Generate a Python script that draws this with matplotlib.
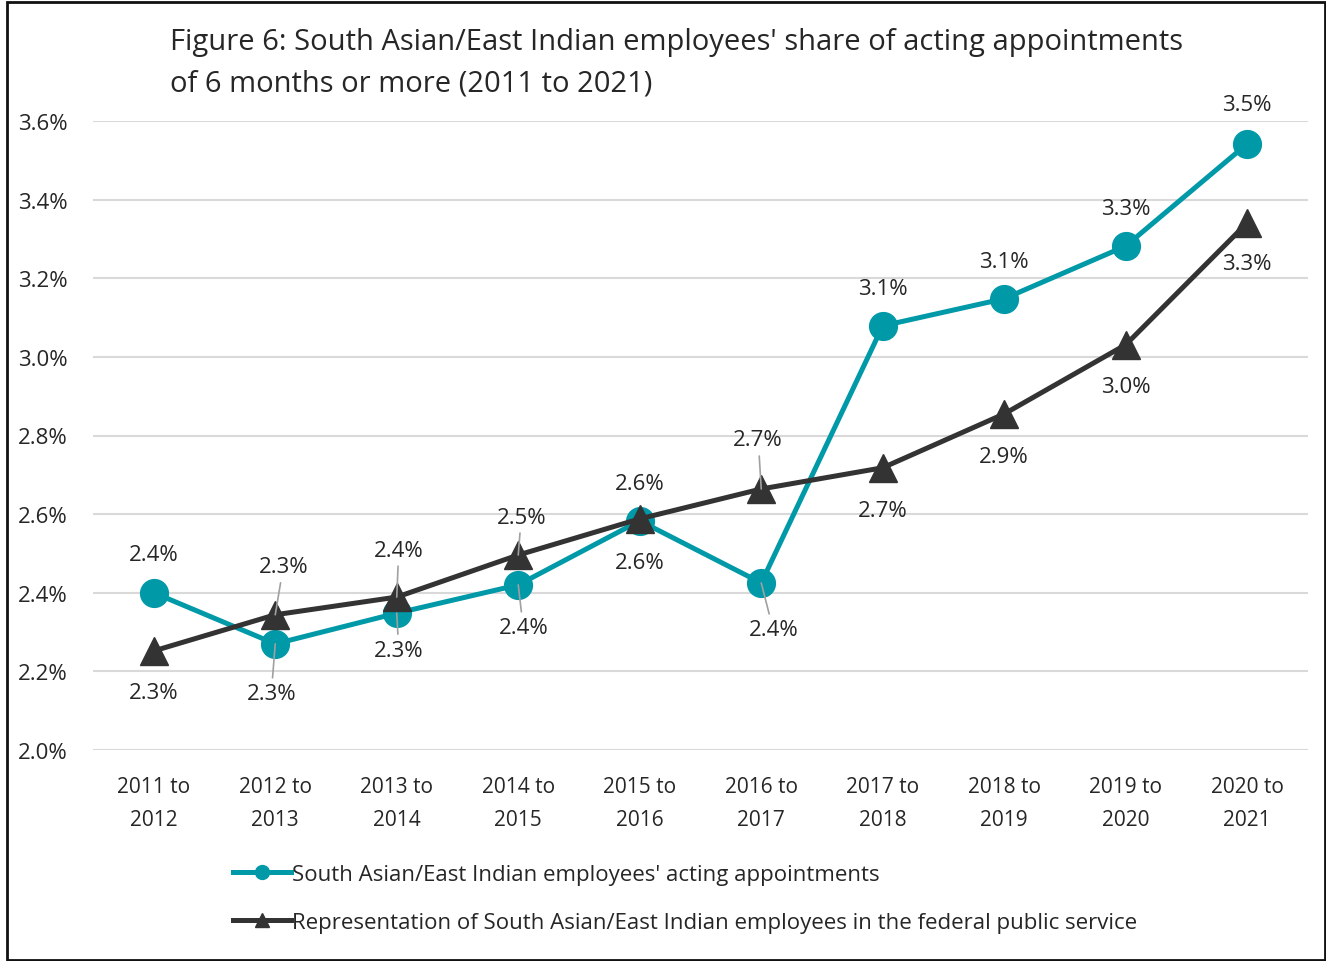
import matplotlib
matplotlib.use("Agg")
import matplotlib.pyplot as plt
from matplotlib.ticker import FuncFormatter

plt.rcParams['font.family'] = ['Open Sans', 'DejaVu Sans']

categories = ["2011 to\n2012", "2012 to\n2013", "2013 to\n2014", "2014 to\n2015", "2015 to\n2016",
              "2016 to\n2017", "2017 to\n2018", "2018 to\n2019", "2019 to\n2020", "2020 to\n2021"]
acting = [2.40, 2.27, 2.348, 2.42, 2.583, 2.425, 3.079, 3.148, 3.282, 3.542]
representation = [2.252, 2.344, 2.389, 2.496, 2.588, 2.664, 2.718, 2.855, 3.031, 3.341]
yticks = [2.0, 2.2, 2.4, 2.6, 2.8, 3.0, 3.2, 3.4, 3.6]

title = "Figure 6: South Asian/East Indian employees' share of acting appointments\nof 6 months or more (2011 to 2021)"
label_acting = "South Asian/East Indian employees' acting appointments"
label_rep = "Representation of South Asian/East Indian employees in the federal public service"

# label layout (pixel offsets) and leader line flags
acting_off = [(0, 38), (-4, -50), (2, -37), (5, -43), (0, -42), (12, -47), (0, 37), (0, 37), (0, 38), (0, 39)]
acting_lead = [False, True, True, True, False, True, False, False, False, False]
rep_off = [(0, -42), (8, 48), (2, 47), (3, 38), (0, 35), (-3, 49), (0, -43), (0, -43), (0, -42), (0, -41)]
rep_lead = [False, True, True, True, False, True, False, False, False, False]

TEAL = "#0099A8"
DARK = "#333333"
TXT = "#262626"

fig = plt.figure(figsize=(13.26, 9.62), dpi=100)
ax = fig.add_axes([93/1326, 1 - 751/962, (1308-93)/1326, (751-122)/962])

x = list(range(len(categories)))
ax.plot(x, acting, color=TEAL, lw=3.6, marker='o', markersize=20, label=label_acting, zorder=3)
ax.plot(x, representation, color=DARK, lw=3.6, marker='^', markersize=20, label=label_rep, zorder=4)

ax.set_xlim(-0.5, len(categories) - 0.5)
ax.set_ylim(2.0, 3.6)
ax.set_yticks(yticks)
ax.yaxis.set_major_formatter(FuncFormatter(lambda v, p: f"{v:.1f}%"))
ax.set_xticks(x)
ax.set_xticklabels(categories, linespacing=1.7)
ax.tick_params(axis='both', length=0, labelcolor=TXT)
ax.tick_params(axis='x', pad=19, labelsize=15)
ax.tick_params(axis='y', pad=18, labelsize=16)
ax.grid(axis='y', color='#D9D9D9', lw=1.5)
ax.set_axisbelow(True)
for s in ax.spines.values():
    s.set_visible(False)

def add_labels(vals, offs, leads):
    for i, v in enumerate(vals):
        dx, dy = offs[i]
        kw = {}
        if leads[i]:
            kw['arrowprops'] = dict(arrowstyle='-', color='#A0A0A0', lw=1.2, shrinkA=2, shrinkB=0)
        ax.annotate(f"{v:.1f}%", xy=(i, v), xytext=(dx, dy), textcoords='offset pixels',
                    ha='center', va='center', fontsize=16, color=TXT, zorder=6, **kw)

add_labels(acting, acting_off, acting_lead)
add_labels(representation, rep_off, rep_lead)

fig.text(170/1326, 1 - 28/962, title, ha='left', va='top', fontsize=21, color=TXT, linespacing=1.58)

leg = fig.legend(loc='upper left', bbox_to_anchor=(213/1326, 1 - 845/962), frameon=False,
                 fontsize=16, handlelength=2.6, handletextpad=0.05, labelspacing=1.2,
                 markerscale=0.5, labelcolor=TXT)

# figure border
fig.patches.append(plt.Rectangle((7/1326, 1/962), (1325-7)/1326, (958)/962, transform=fig.transFigure,
                                 fill=False, edgecolor='#111111', lw=2))

fig.savefig("out.png", dpi=100)
